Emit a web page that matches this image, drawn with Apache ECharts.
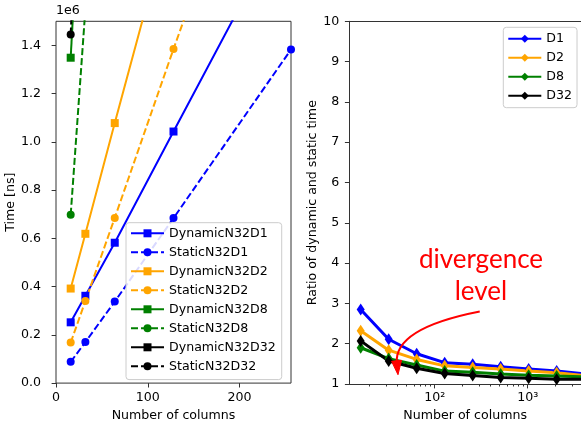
<!DOCTYPE html>
<html>
<head>
<meta charset="utf-8">
<script src="https://cdn.jsdelivr.net/npm/echarts@6/dist/echarts.min.js"></script>
<style>
  html, body { margin: 0; padding: 0; background: #fff; }
  #chart { width: 581px; height: 427px; }
</style>
</head>
<body>
<div id="chart"></div>
<script>
// Benchmark timings (ns) per number of columns
const columns = [16, 32, 64, 128, 256];
const dynamicN32D1 = [252000, 362000, 582000, 1043000, 1960000];
const staticN32D1 = [88000, 170000, 338000, 684000, 1383000];
const dynamicN32D2 = [392000, 619000, 1078000, 1980000];
const staticN32D2 = [168000, 340000, 685000, 1385000, 2750000];
const dynamicN32D8 = [1349000, 2480000];
const staticN32D8 = [698000, 1550000];
const dynamicN32D32 = [2990000, 4600000];
const staticN32D32 = [1445000, 2900000];

// Ratio of dynamic to static time
const ratioColumns = [16, 32, 64, 128, 256, 512, 1024, 2048, 4096];
const ratioD1 = [2.85, 2.11, 1.75, 1.53, 1.49, 1.43, 1.37, 1.32, 1.25];
const ratioD2 = [2.32, 1.84, 1.61, 1.45, 1.41, 1.37, 1.32, 1.28, 1.21];
const ratioD8 = [1.90, 1.63, 1.47, 1.32, 1.29, 1.25, 1.22, 1.20, 1.18];
const ratioD32 = [2.07, 1.57, 1.39, 1.26, 1.21, 1.16, 1.14, 1.12, 1.12];

// Tick values
const timeTicks = [0, 200000, 400000, 600000, 800000, 1000000, 1200000, 1400000];
const columnTicks = [0, 100, 200];
const ratioMajorTicks = [100, 1000];
const ratioMinorTicks = [20, 30, 40, 50, 60, 70, 80, 90, 200, 300, 400, 500, 600, 700, 800, 900, 2000, 3000];
const superscripts = { 2: '\u00b2', 3: '\u00b3' };

// "divergence level" note, in data coordinates of the ratio panel
const noteText = 'divergence\nlevel';
const noteTextAt = [314.5, 3.68];
const noteTail = [305, 2.80];
const noteBend = [35.8, 2.38];
const noteHead = [40.3, 1.23];

const FONT = 'DejaVu Sans';
const FS = 12.6;
const SPINE = '#333';
const BLUE = '#0000ff', ORANGE = '#ffa500', GREEN = '#008000', BLACK = '#000000';

const pairs = (xs, ys) => ys.map((y, i) => [xs[i], y]);

function timeSeries(name, values, color, isStatic) {
  return {
    name, type: 'line', xAxisIndex: 0, yAxisIndex: 0,
    data: pairs(columns, values),
    symbol: isStatic ? 'circle' : 'rect',
    symbolSize: 8,
    showAllSymbol: true,
    clip: true,
    itemStyle: { color },
    lineStyle: { color, width: 2, type: isStatic ? [7, 3] : 'solid' },
    emphasis: { disabled: true },
    animation: false
  };
}

function ratioSeries(name, values, color) {
  return {
    name, type: 'line', xAxisIndex: 1, yAxisIndex: 1,
    data: pairs(ratioColumns, values),
    symbol: 'diamond',
    symbolSize: [8, 12],
    showAllSymbol: true,
    clip: true,
    itemStyle: { color },
    lineStyle: { color, width: 3 },
    emphasis: { disabled: true },
    animation: false
  };
}

const axisText = { fontFamily: FONT, fontSize: FS, color: '#000' };
const spine = { show: true, onZero: false, lineStyle: { color: SPINE, width: 1 } };
const RATIO_MIN = 12.07, RATIO_MAX = 3742;

const chart = echarts.init(document.getElementById('chart'), null, { renderer: 'canvas' });

chart.setOption({
  animation: false,
  backgroundColor: '#fff',
  textStyle: { fontFamily: FONT },
  grid: [
    { left: 56, right: 290, top: 21.3, bottom: 41, show: true, borderColor: SPINE, borderWidth: 1, backgroundColor: 'transparent' },
    { left: 349.3, right: 0, top: 21.3, bottom: 41, show: false }
  ],
  xAxis: [
    {
      type: 'value', gridIndex: 0, min: 0, max: 256, position: 'bottom',
      axisLine: { show: false, onZero: false },
      axisTick: { show: true, customValues: columnTicks, length: 4.4, lineStyle: { color: SPINE } },
      axisLabel: Object.assign({ customValues: columnTicks, margin: 8 }, axisText),
      splitLine: { show: false },
      name: 'Number of columns', nameLocation: 'middle', nameGap: 25,
      nameTextStyle: axisText
    },
    {
      type: 'log', logBase: 10, gridIndex: 1, min: RATIO_MIN, max: RATIO_MAX, position: 'bottom',
      axisLine: spine,
      axisTick: { show: true, customValues: ratioMajorTicks, length: 4.4, lineStyle: { color: SPINE } },
      axisLabel: Object.assign({
        customValues: ratioMajorTicks, margin: 7,
        formatter: v => '10' + superscripts[Math.round(Math.log10(v))]
      }, axisText),
      splitLine: { show: false },
      minorTick: { show: false },
      name: 'Number of columns', nameLocation: 'middle', nameGap: 25,
      nameTextStyle: axisText
    },
    {
      type: 'log', logBase: 10, gridIndex: 1, min: RATIO_MIN, max: RATIO_MAX, position: 'bottom',
      axisLine: { show: false },
      axisTick: { show: true, customValues: ratioMinorTicks, length: 2.5, lineStyle: { color: SPINE } },
      axisLabel: { show: false },
      splitLine: { show: false }
    },
    {
      type: 'log', logBase: 10, gridIndex: 1, min: RATIO_MIN, max: RATIO_MAX, position: 'top',
      axisLine: spine,
      axisTick: { show: false },
      axisLabel: { show: false },
      splitLine: { show: false }
    }
  ],
  yAxis: [
    {
      type: 'value', gridIndex: 0, min: 0, max: 1500000,
      axisLine: { show: false, onZero: false },
      axisTick: { show: true, customValues: timeTicks, length: 4.4, lineStyle: { color: SPINE } },
      axisLabel: Object.assign({ customValues: timeTicks, margin: 15, formatter: v => (v / 1e6).toFixed(1) }, axisText),
      splitLine: { show: false },
      name: 'Time [ns]', nameLocation: 'middle', nameGap: 34, nameRotate: 90,
      nameTextStyle: axisText
    },
    {
      type: 'value', gridIndex: 1, min: 1, max: 10, interval: 1,
      axisLine: spine,
      axisTick: { show: true, length: 4.4, lineStyle: { color: SPINE } },
      axisLabel: Object.assign({ margin: 10 }, axisText),
      splitLine: { show: false },
      name: 'Ratio of dynamic and static time', nameLocation: 'middle', nameGap: 30, nameRotate: 90,
      nameTextStyle: axisText
    }
  ],
  legend: [
    {
      data: ['DynamicN32D1', 'StaticN32D1', 'DynamicN32D2', 'StaticN32D2',
             'DynamicN32D8', 'StaticN32D8', 'DynamicN32D32', 'StaticN32D32'],
      orient: 'vertical', left: 126, top: 222.7,
      itemWidth: 33, itemHeight: 10, itemGap: 5,
      padding: [3.6, 6, 6.3, 4],
      backgroundColor: 'rgba(255,255,255,0.85)', borderColor: '#ccc', borderWidth: 1, borderRadius: 3,
      textStyle: { fontFamily: FONT, fontSize: FS, color: '#000', lineHeight: 14 },
      selectedMode: false
    },
    {
      data: ['D1', 'D2', 'D8', 'D32'],
      orient: 'vertical', left: 503.3, top: 27.3,
      itemWidth: 33, itemHeight: 10, itemGap: 5,
      padding: [4.4, 5, 5, 4],
      backgroundColor: 'rgba(255,255,255,0.85)', borderColor: '#ccc', borderWidth: 1, borderRadius: 3,
      textStyle: { fontFamily: FONT, fontSize: FS, color: '#000', lineHeight: 14 },
      selectedMode: false
    }
  ],
  series: [
    timeSeries('DynamicN32D1', dynamicN32D1, BLUE, false),
    timeSeries('StaticN32D1', staticN32D1, BLUE, true),
    timeSeries('DynamicN32D2', dynamicN32D2, ORANGE, false),
    timeSeries('StaticN32D2', staticN32D2, ORANGE, true),
    timeSeries('DynamicN32D8', dynamicN32D8, GREEN, false),
    timeSeries('StaticN32D8', staticN32D8, GREEN, true),
    timeSeries('DynamicN32D32', dynamicN32D32, BLACK, false),
    timeSeries('StaticN32D32', staticN32D32, BLACK, true),
    ratioSeries('D1', ratioD1, BLUE),
    ratioSeries('D2', ratioD2, ORANGE),
    ratioSeries('D8', ratioD8, GREEN),
    ratioSeries('D32', ratioD32, BLACK)
  ]
});

// Scale exponent label above the time axis, and the curved note on the ratio panel
function drawOverlays() {
  const finder = { xAxisIndex: 1, yAxisIndex: 1 };
  const px = p => chart.convertToPixel(finder, p);
  const tail = px(noteTail), bend = px(noteBend), head = px(noteHead), label = px(noteTextAt);
  const topLeft = chart.convertToPixel({ xAxisIndex: 0, yAxisIndex: 0 }, [0, 1500000]);

  // arrowhead along the last tangent of the curve
  const dx = head[0] - bend[0], dy = head[1] - bend[1];
  const len = Math.hypot(dx, dy) || 1;
  const ux = dx / len, uy = dy / len;
  const hl = 14, hw = 5;
  const bx = head[0] - ux * hl, by = head[1] - uy * hl;
  const stop = [head[0] - ux * hl * 0.8, head[1] - uy * hl * 0.8];

  chart.setOption({
    graphic: [
      {
        type: 'text', left: topLeft[0], top: topLeft[1] - 17, silent: true,
        style: { text: '1e6', fill: '#000', fontFamily: FONT, fontSize: FS }
      },
      {
        type: 'bezierCurve', silent: true, z: 100,
        shape: { x1: tail[0], y1: tail[1], cpx1: bend[0], cpy1: bend[1], x2: stop[0], y2: stop[1] },
        style: { stroke: '#ff0000', lineWidth: 2, fill: null }
      },
      {
        type: 'polygon', silent: true, z: 100,
        shape: { points: [head, [bx - uy * hw, by + ux * hw], [bx + uy * hw, by - ux * hw]] },
        style: { fill: '#ff0000', stroke: '#ff0000', lineWidth: 1 }
      },
      {
        type: 'text', x: label[0], y: label[1], silent: true, z: 100,
        style: {
          text: noteText, fill: '#ff0000', fontFamily: "Lato, 'DejaVu Sans', sans-serif", fontSize: 26,
          lineHeight: 32, align: 'center', verticalAlign: 'middle'
        }
      }
    ]
  });
}
drawOverlays();
</script>
</body>
</html>
